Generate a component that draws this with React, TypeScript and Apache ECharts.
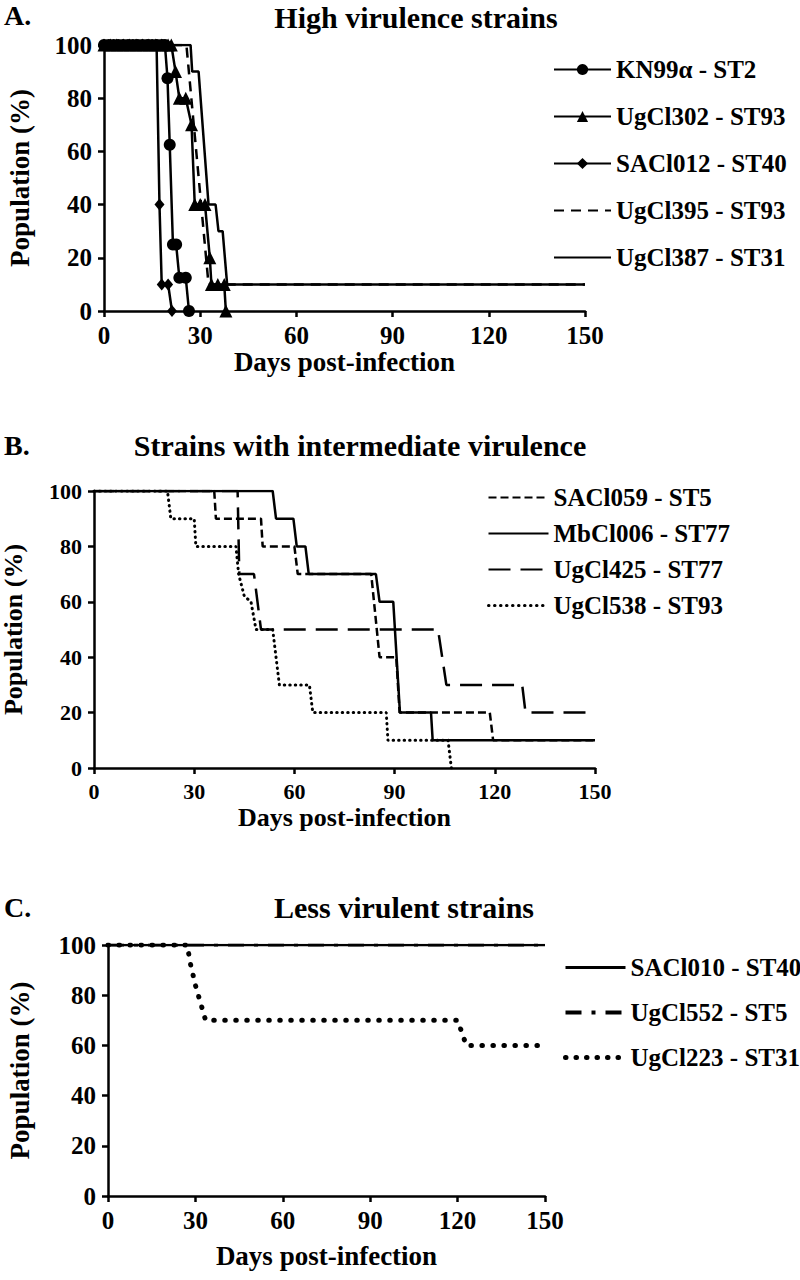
import React, { useEffect, useRef } from "react";
import * as echarts from "echarts";

const FONT = "Liberation Serif, Times New Roman, serif";

// Axis ticks (shared by the three panels)
const xTickStep = 30;
const xMax = 150;
const yTickStep = 20;
const yMax = 100;

// Panel A - High virulence strains  [day, % surviving]
const aNames = ["KN99\u03b1 - ST2", "UgCl302 - ST93", "SACl012 - ST40", "UgCl395 - ST93", "UgCl387 - ST31"];
const kn99Alpha = [[0,100],[1.5,100],[3,100],[4.5,100],[6,100],[7.5,100],[9,100],[10.5,100],[12,100],[13.5,100],[15,100],[16.5,100],[18,100],[19,100],[19.8,87.5],[20.5,62.5],[21.5,25],[22.5,25],[23.5,12.5],[25.5,12.5],[26.5,0]];
const ugcl302 = [[0,100],[2,100],[4,100],[6,100],[8,100],[10,100],[12,100],[14,100],[16,100],[18,100],[20,100],[21,100],[22.3,90],[23.5,80],[25.5,80],[27.3,70],[28.3,40],[30,40],[31.5,40],[33,20],[33.5,10],[35.5,10],[37.5,10],[38,0]];
const sacl012 = [[0,100],[2,100],[4,100],[6,100],[8,100],[10,100],[12,100],[14,100],[16.4,100],[17.3,40],[18,10],[20,10],[21.2,0]];
const ugcl395 = [[0,100],[25.7,100],[32.6,10],[150,10]];
const ugcl387 = [[0,100],[27,100],[27.5,90],[29.5,90],[32.6,40],[34.8,40],[35.7,30],[37,30],[38.4,10],[150,10]];

// Panel B - Strains with intermediate virulence
const bNames = ["SACl059 - ST5", "MbCl006 - ST77", "UgCl425 - ST77", "UgCl538 - ST93"];
const sacl059 = [[0,100],[36,100],[36.5,90],[50,90],[50.5,80],[60,80],[61,70],[83,70],[85.5,40],[90.5,40],[91.5,20],[118.5,20],[119.5,10],[150,10]];
const mbcl006 = [[0,100],[53.5,100],[54.5,90],[59.7,90],[60.7,80],[63.3,80],[64.3,70],[84.4,70],[85.5,60],[89.6,60],[91.6,20],[100.9,20],[101.4,10],[150,10]];
const ugcl425 = [[0,100],[43,100],[43.5,70],[47.9,70],[50,50],[103,50],[105.5,30],[128.2,30],[129.2,20],[150,20]];
const ugcl538 = [[0,100],[22,100],[23,90],[30,90],[30.5,80],[42.5,80],[43.3,70],[45,62],[47,60],[48.5,50],[53.5,50],[55.5,30],[64.5,30],[65.5,20],[87.5,20],[88,10],[106,10],[107,0]];

// Panel C - Less virulent strains
const cNames = ["SACl010 - ST40", "UgCl552 - ST5", "UgCl223 - ST31"];
const sacl010 = [[0,100],[150,100]];
const ugcl552 = [[0,100],[150,100]];
const ugcl223 = [[0,100],[27.2,100],[28.2,93],[30,84],[33.5,70],[120,70],[123,60],[150,60]];

const panels = [
  { letter: "A.", title: "High virulence strains", titleX: 416, titleTop: 2, letterTop: 1,
    grid: { left: 104, top: 45, width: 481, height: 266 }, tickFont: 25, nameFont: 27, yGap: 71, xGap: 36,
    legend: { left: 553, top: 57, gap: 22, font: 25, w: 57 } },
  { letter: "B.", title: "Strains with intermediate virulence", titleX: 360, titleTop: 430, letterTop: 431,
    grid: { left: 94, top: 491, width: 501, height: 277 }, tickFont: 22, nameFont: 26, yGap: 68, xGap: 36,
    legend: { left: 487, top: 485, gap: 11, font: 25, w: 60 } },
  { letter: "C.", title: "Less virulent strains", titleX: 404, titleTop: 892, letterTop: 893,
    grid: { left: 108, top: 945, width: 437, height: 251 }, tickFont: 25, nameFont: 27, yGap: 75, xGap: 46,
    legend: { left: 563, top: 955, gap: 20, font: 25, w: 60 } },
];

const markerless = new Set([aNames[3], aNames[4], ...bNames, ...cNames]);

function lineSeries(name: string, data: number[][], idx: number, opts: any) {
  return {
    type: "line",
    name,
    data,
    xAxisIndex: idx,
    yAxisIndex: idx,
    symbol: opts.symbol || "none",
    symbolSize: opts.symbolSize || 10,
    showSymbol: !!opts.symbol,
    itemStyle: { color: "#000", borderWidth: 0 },
    lineStyle: { color: "#000", width: opts.width || 2.5, type: opts.type || "solid", cap: opts.cap || "butt" },
    emphasis: { disabled: true },
    z: opts.z || 2,
  };
}

export default function App() {
  const ref = useRef<HTMLDivElement>(null);
  useEffect(() => {
    if (!ref.current) return;
    const chart = echarts.init(ref.current, null, { renderer: "svg" });
    const txt = { fontFamily: FONT, fontWeight: "bold" as const, color: "#000" };

    const grids = panels.map((p) => ({ ...p.grid, containLabel: false, outerBoundsMode: "none" }));
    const xAxes = panels.map((p, i) => ({
      type: "value", gridIndex: i, min: 0, max: xMax, interval: xTickStep,
      name: "Days post-infection", nameLocation: "middle", nameGap: p.xGap,
      nameTextStyle: { ...txt, fontSize: p.nameFont },
      axisLine: { show: true, lineStyle: { color: "#000", width: 2.5 } },
      axisTick: { show: true, length: 6, lineStyle: { color: "#000", width: 2.5 } },
      axisLabel: { ...txt, fontSize: p.tickFont, margin: 12 },
      splitLine: { show: false },
    }));
    const yAxes = panels.map((p, i) => ({
      type: "value", gridIndex: i, min: 0, max: yMax, interval: yTickStep,
      name: "Population (%)", nameLocation: "middle", nameGap: p.yGap, nameRotate: 90,
      nameTextStyle: { ...txt, fontSize: p.nameFont },
      axisLine: { show: true, lineStyle: { color: "#000", width: 2.5 } },
      axisTick: { show: true, length: 6, lineStyle: { color: "#000", width: 2.5 } },
      axisLabel: { ...txt, fontSize: p.tickFont, margin: 12 },
      splitLine: { show: false },
    }));

    const series = [
      lineSeries(aNames[0], kn99Alpha, 0, { symbol: "circle", symbolSize: 12, z: 5 }),
      lineSeries(aNames[1], ugcl302, 0, { symbol: "triangle", symbolSize: 13, z: 4 }),
      lineSeries(aNames[2], sacl012, 0, { symbol: "diamond", symbolSize: [10, 12], z: 6 }),
      lineSeries(aNames[3], ugcl395, 0, { type: [10, 7], z: 3 }),
      lineSeries(aNames[4], ugcl387, 0, { z: 2 }),
      lineSeries(bNames[0], sacl059, 1, { type: [8, 4] }),
      lineSeries(bNames[1], mbcl006, 1, { z: 3 }),
      lineSeries(bNames[2], ugcl425, 1, { type: [22, 10] }),
      lineSeries(bNames[3], ugcl538, 1, { type: [0.5, 5], cap: "round", width: 3 }),
      lineSeries(cNames[0], sacl010, 2, {}),
      lineSeries(cNames[1], ugcl552, 2, { type: [16, 10, 4, 10], width: 3, z: 3 }),
      lineSeries(cNames[2], ugcl223, 2, { type: [0.5, 10.5], cap: "round", width: 5 }),
    ];

    const legendLine: Record<string, any> = {
      [cNames[0]]: { width: 3, type: "solid" },
      [cNames[2]]: { width: 5, type: [0.5, 10], cap: "round" },
      [cNames[1]]: { width: 4, type: [16, 10, 4, 10] },
      [bNames[3]]: { width: 3, type: [0.5, 5.5], cap: "round" },
    };

    const legendNames = [aNames, bNames, cNames];
    const legends = panels.map((p, i) => ({
      orient: "vertical", left: p.legend.left, top: p.legend.top,
      itemWidth: p.legend.w, itemHeight: 14, itemGap: p.legend.gap,
      selectedMode: false, padding: 0,
      data: legendNames[i].map((n) => {
        const item: any = { name: n };
        if (markerless.has(n)) item.itemStyle = { color: "rgba(0,0,0,0)", opacity: 0, borderWidth: 0 };
        if (legendLine[n]) item.lineStyle = { color: "#000", ...legendLine[n] };
        return item;
      }),
      textStyle: { ...txt, fontSize: p.legend.font, lineHeight: p.legend.font },
    }));

    const titles = panels.map((p) => ({
      text: p.title, left: p.titleX, top: p.titleTop, textAlign: "center", padding: 0,
      textStyle: { ...txt, fontSize: 30, lineHeight: 30 },
    }));

    const graphic = panels.map((p) => ({
      type: "text", left: 4, top: p.letterTop,
      style: { text: p.letter, font: `bold 28px ${FONT}`, fill: "#000" },
    }));

    chart.setOption({
      animation: false,
      backgroundColor: "#fff",
      title: titles,
      legend: legends,
      grid: grids,
      xAxis: xAxes,
      yAxis: yAxes,
      series,
      graphic,
    });
    return () => chart.dispose();
  }, []);
  return <div ref={ref} style={{ position: "absolute", left: 0, top: 0, width: 800, height: 1280 }} />;
}
